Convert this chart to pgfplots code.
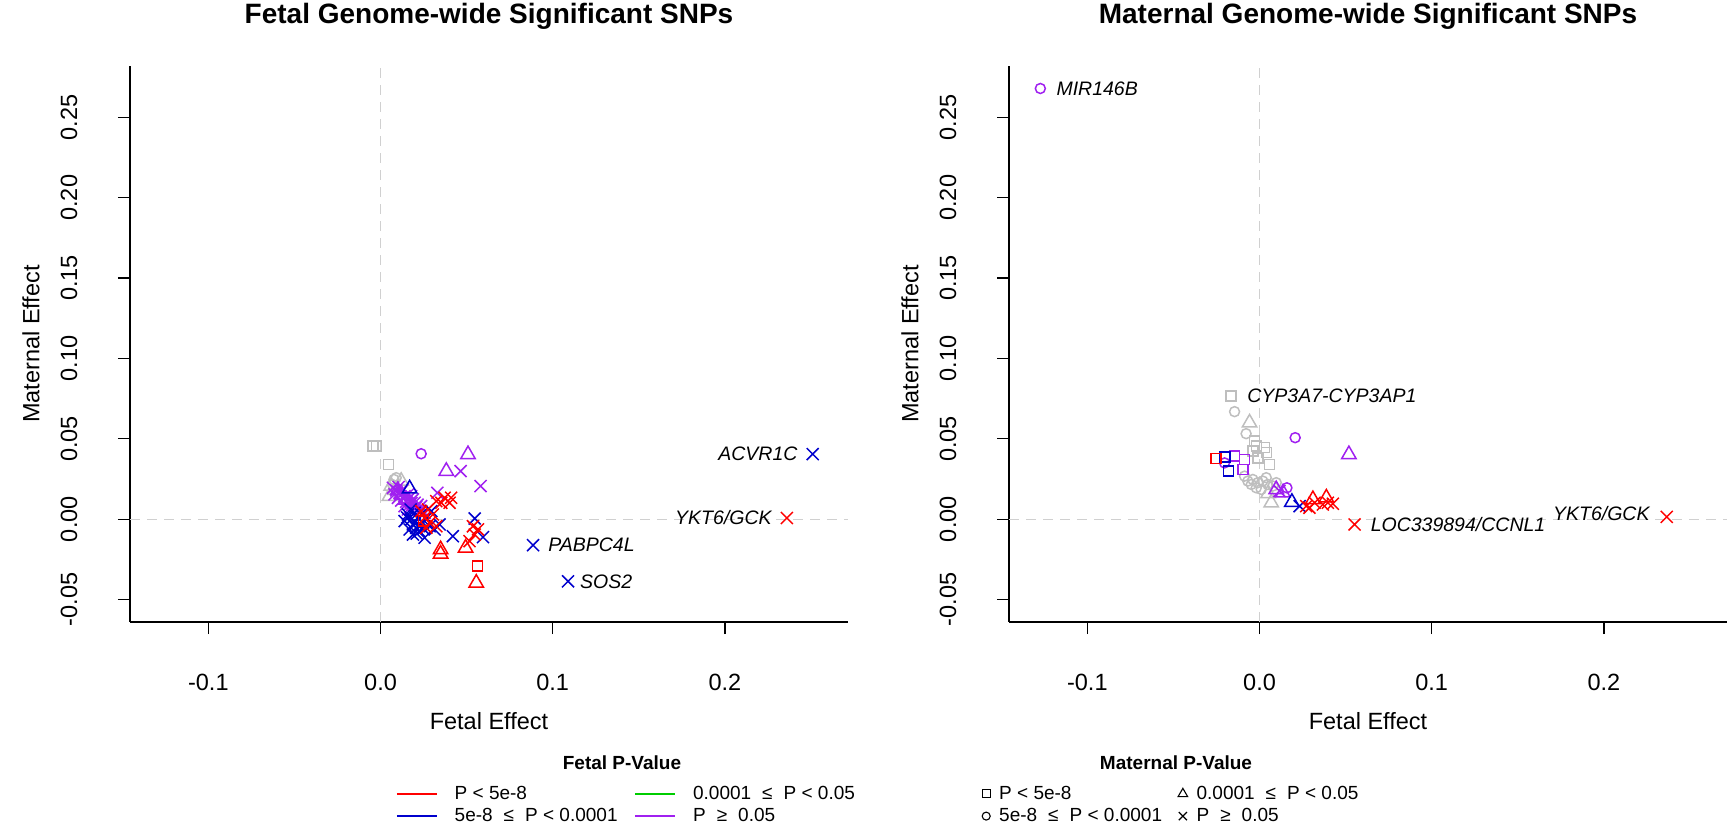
\documentclass[border=0pt]{standalone}
\usepackage{fontspec}
\setmainfont{Liberation Sans}
\usepackage{pgfplots}
\pgfplotsset{compat=1.18}
\definecolor{cred}{HTML}{FF0000}
\definecolor{cblue}{HTML}{0000CD}
\definecolor{cgreen}{HTML}{00CD00}
\definecolor{cpurp}{HTML}{A020F0}
\definecolor{cgray}{HTML}{BEBEBE}
\definecolor{cref}{HTML}{D0D0D0}
\tikzset{gene/.style={inner sep=0pt, font=\fontsize{19.5}{22}\selectfont\itshape}}
\pgfplotsset{
  rstyle/.style={
    scale only axis, width=718pt, height=556pt,
    xmin=-0.1455, xmax=0.2715, ymin=-0.064, ymax=0.282,
    axis lines=left, axis line style={-, line width=1.3pt, black},
    tick align=outside, major tick length=12pt, tick style={line width=1.3pt, black},
    xtick={-0.1,0,0.1,0.2}, xticklabels={-0.1,0.0,0.1,0.2},
    ytick={-0.05,0,0.05,0.1,0.15,0.2,0.25},
    yticklabels={-0.05,0.00,0.05,0.10,0.15,0.20,0.25},
    /pgf/number format/assume math mode=true,
    ticklabel style={font=\fontsize{23.5}{26}\selectfont},
    xticklabel style={anchor=center, yshift=-48pt},
    yticklabel style={anchor=center, xshift=-49pt, rotate=90},
    label style={font=\fontsize{23.5}{26}\selectfont},
    xlabel style={at={(axis description cs:0.5,-0.178)}, anchor=center},
    ylabel style={at={(axis description cs:-0.138,0.5)}, anchor=center},
    title style={at={(axis description cs:0.5,1.0791)}, anchor=center, font=\fontsize{28}{30}\selectfont\bfseries},
    clip=false,
  },
  refl/.style={forget plot, cref, line width=1.2pt, dash pattern=on 10pt off 7pt},
  pt/.style={forget plot, only marks, line width=1.5pt},
  sq/.style={pt, mark=square, mark size=5pt},
  ci/.style={pt, mark=o, mark size=5pt},
  tr/.style={pt, mark=triangle, mark size=8.3pt},
  xx/.style={pt, mark=x, mark size=8.5pt},
}
\begin{document}
\begin{tikzpicture}
\useasboundingbox (0,0) rectangle (1727pt,827pt);
% ---------------- Left: fetal ----------------
\begin{axis}[rstyle, at={(130pt,205pt)}, anchor=south west,
  title={Fetal Genome-wide Significant SNPs},
  xlabel={Fetal Effect}, ylabel={Maternal Effect},
  legend columns=2,
  legend cell align=left,
  legend image code/.code={\draw[#1] (0pt,0pt) -- (40pt,0pt);},
  legend style={at={(axis description cs:0.3705,-0.3291)}, anchor=west, draw=none, fill=none,
    inner sep=0pt, row sep=3.5pt, font=\fontsize{19}{22}\selectfont,
    /tikz/every odd column/.append style={column sep=15pt},
    /tikz/every even column/.append style={column sep=15pt}},
]
\addplot[refl] coordinates {(0,-0.064) (0,0.282)};
\addplot[refl] coordinates {(-0.1455,0) (0.2715,0)};
% gray
\addplot[sq, cgray] coordinates {(-0.0045,0.0455) (-0.0024,0.0455) (0.0047,0.034)};
\addplot[ci, cgray] coordinates {(0.0078,0.0247) (0.0091,0.0258) (0.0070,0.0215)};
\addplot[tr, cgray] coordinates {(0.012,0.0237) (0.0062,0.0206) (0.0052,0.0143) (0.0085,0.018)};
% purple
\addplot[ci, cpurp] coordinates {(0.0236,0.0407)};
\addplot[tr, cpurp] coordinates {(0.0508,0.0403) (0.0382,0.0299) (0.0100,0.0180) (0.0125,0.0150) (0.0150,0.0120)};
\addplot[xx, cpurp] coordinates {(0.0465,0.0299) (0.0581,0.0206) (0.033,0.0164)
 (0.0072,0.0195) (0.0091,0.0179) (0.011,0.0164) (0.013,0.0185) (0.014,0.0143) (0.0159,0.0154)
 (0.0101,0.0133) (0.012,0.0116) (0.0149,0.0108) (0.0169,0.0091) (0.0188,0.0123) (0.0207,0.0075)
 (0.0227,0.0054) (0.0236,0.0081) (0.0081,0.0154) (0.0178,0.0143) (0.0198,0.0102) (0.0256,0.0039)
 (0.014,0.0081) (0.0159,0.006) (0.0105,0.0200) (0.0120,0.0170) (0.0165,0.0130) (0.0180,0.0100) (0.0215,0.0090)};
% blue
\addplot[tr, cblue] coordinates {(0.0169,0.0190)};
\addplot[xx, cblue] coordinates {(0.0159,0.0029) (0.0178,-0.0002) (0.0188,-0.0033) (0.0207,-0.0054)
 (0.0169,-0.0064) (0.0227,-0.0075) (0.0246,-0.0023) (0.0266,0.0008) (0.0217,0.0008) (0.0285,-0.0044)
 (0.0314,-0.0064) (0.0256,-0.0116) (0.0343,-0.0033) (0.0198,0.0039) (0.0236,0.0029) (0.014,-0.0012)
 (0.0188,-0.0096) (0.042,-0.0106) (0.0595,-0.0112) (0.0547,0.0004) (0.0295,0.005) (0.0200,-0.0020)
 (0.0230,-0.0040) (0.0175,0.0060) (0.0155,0.0010) (0.0250,-0.0060) (0.0210,-0.0090)
 (0.251,0.0405) (0.0886,-0.0162) (0.1089,-0.0387)};
% red
\addplot[xx, cred] coordinates {(0.0372,0.0133) (0.0401,0.0102) (0.0353,0.0102) (0.0324,0.0112)
 (0.041,0.0133) (0.0275,0.006) (0.0304,0.0029) (0.0256,0.0008) (0.0285,-0.0023) (0.0266,-0.0054)
 (0.0324,-0.0044) (0.0236,0.005) (0.0517,-0.0137) (0.0547,-0.0096) (0.0566,-0.0064) (0.0537,-0.0044)
 (0.236,0.0007)};
\addplot[tr, cred] coordinates {(0.0349,-0.0189) (0.0349,-0.0216) (0.0494,-0.0179) (0.0556,-0.0397)};
\addplot[sq, cred] coordinates {(0.0562,-0.0293) (0.0250,-0.0010)};
% labels
\node[gene, anchor=east, xshift=-15pt] at (axis cs:0.251,0.0405) {ACVR1C};
\node[gene, anchor=east, xshift=-15pt] at (axis cs:0.236,0.0007) {YKT6/GCK};
\node[gene, anchor=west, xshift=15pt] at (axis cs:0.0886,-0.0162) {PABPC4L};
\node[gene, anchor=west, xshift=12pt] at (axis cs:0.1089,-0.0387) {SOS2};
% legend
\addlegendimage{cred, line width=1.5pt}
\addlegendentry{P < 5e-8}
\addlegendimage{cgreen, line width=1.5pt}
\addlegendentry{0.0001\hspace{11pt}≤\hspace{11pt}P < 0.05}
\addlegendimage{cblue, line width=1.5pt}
\addlegendentry{5e-8\hspace{11pt}≤\hspace{11pt}P < 0.0001}
\addlegendimage{cpurp, line width=1.5pt}
\addlegendentry{P\hspace{11pt}≥\hspace{11pt}0.05}
\end{axis}
% ---------------- Right: maternal ----------------
\begin{axis}[rstyle, at={(1009pt,205pt)}, anchor=south west,
  title={Maternal Genome-wide Significant SNPs},
  xlabel={Fetal Effect}, ylabel={Maternal Effect},
  legend columns=2,
  legend cell align=left,
  legend style={at={(axis description cs:-0.0376,-0.3291)}, anchor=west, draw=none, fill=none,
    inner sep=0pt, row sep=3.5pt, font=\fontsize{19}{22}\selectfont,
    /tikz/every odd column/.append style={column sep=7pt},
    /tikz/every even column/.append style={column sep=14pt}},
]
\addplot[refl] coordinates {(0,-0.064) (0,0.282)};
\addplot[refl] coordinates {(-0.1455,0) (0.2715,0)};
% gray
\addplot[sq, cgray] coordinates {(-0.0165,0.0767) (-0.003,0.0486) (-0.0019,0.0455) (0.0029,0.0445)
 (0.0039,0.0414) (0.0058,0.034) (-0.0039,0.0424) (-0.001,0.038)};
\addplot[ci, cgray] coordinates {(-0.0145,0.0669) (-0.0078,0.0532) (-0.0068,0.0237) (-0.0039,0.0247)
 (-0.001,0.0227) (0.0019,0.0237) (0.0048,0.0216) (0.0078,0.0206) (0.001,0.0185) (-0.0048,0.0216)
 (0.0039,0.0258) (-0.0019,0.0195) (-0.0087,0.0268) (0.0097,0.0227)};
\addplot[tr, cgray] coordinates {(-0.0058,0.060) (0.0068,0.0102) (0.005,0.016)};
% purple
\addplot[ci, cpurp] coordinates {(-0.1273,0.268) (0.0207,0.0507) (-0.0203,0.035) (0.0159,0.0195)};
\addplot[tr, cpurp] coordinates {(0.0519,0.0403) (0.0097,0.0185) (0.0136,0.0164)};
\addplot[sq, cpurp] coordinates {(-0.0145,0.0393) (-0.0087,0.0372) (-0.0097,0.031)};
\addplot[xx, cpurp] coordinates {(0.0116,0.0175)};
% blue
\addplot[sq, cblue] coordinates {(-0.020,0.0387) (-0.018,0.030)};
\addplot[tr, cblue] coordinates {(0.0188,0.0106)};
\addplot[xx, cblue] coordinates {(0.0233,0.0081)};
% red
\addplot[sq, cred] coordinates {(-0.0252,0.0378)};
\addplot[tr, cred] coordinates {(0.031,0.0123) (0.0388,0.0133)};
\addplot[xx, cred] coordinates {(0.0271,0.0081) (0.032,0.0102) (0.0368,0.0091) (0.0397,0.0102)
 (0.0426,0.0096) (0.029,0.0071) (0.0552,-0.0033) (0.2365,0.0014)};
% labels
\node[gene, anchor=west, xshift=16pt] at (axis cs:-0.1273,0.268) {MIR146B};
\node[gene, anchor=west, xshift=16pt] at (axis cs:-0.0165,0.0767) {CYP3A7-CYP3AP1};
\node[gene, anchor=west, xshift=16pt] at (axis cs:0.0552,-0.0033) {LOC339894/CCNL1};
\node[gene, anchor=east, xshift=-17pt, yshift=3pt] at (axis cs:0.2365,0.0014) {YKT6/GCK};
% legend
\addlegendimage{legend image code/.code={\draw[black, line width=1.1pt] plot[only marks, mark=square, mark size=4pt] coordinates {(0pt,0pt)};}}
\addlegendentry{P < 5e-8}
\addlegendimage{legend image code/.code={\draw[black, line width=1.1pt] plot[only marks, mark=triangle, mark size=5.5pt] coordinates {(0pt,0pt)};}}
\addlegendentry{0.0001\hspace{11pt}≤\hspace{11pt}P < 0.05}
\addlegendimage{legend image code/.code={\draw[black, line width=1.1pt] plot[only marks, mark=o, mark size=4pt] coordinates {(0pt,0pt)};}}
\addlegendentry{5e-8\hspace{11pt}≤\hspace{11pt}P < 0.0001}
\addlegendimage{legend image code/.code={\draw[black, line width=1.1pt] plot[only marks, mark=x, mark size=5.8pt] coordinates {(0pt,0pt)};}}
\addlegendentry{P\hspace{11pt}≥\hspace{11pt}0.05}
\end{axis}
\node[font=\fontsize{19}{22}\selectfont\bfseries] at (622pt,64pt) {Fetal P-Value};
\node[font=\fontsize{19}{22}\selectfont\bfseries] at (1176pt,64pt) {Maternal P-Value};
\end{tikzpicture}
\end{document}
